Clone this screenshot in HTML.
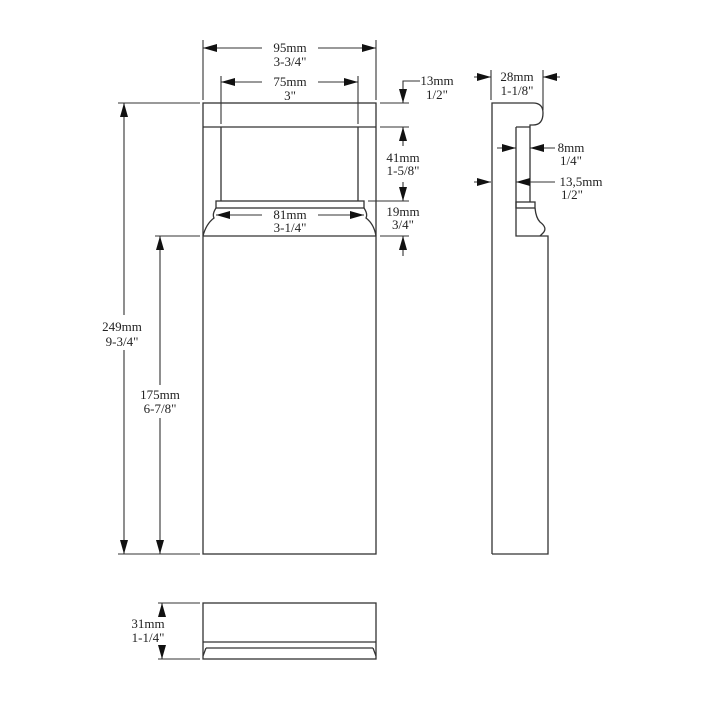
<!DOCTYPE html>
<html><head><style>body{margin:0;background:#fff}svg{display:block}text{font-family:"Liberation Serif",serif;font-size:13px;fill:#222;text-anchor:middle}</style></head><body>
<svg width="720" height="720" viewBox="0 0 720 720">
<defs><marker id="a" viewBox="0 0 14 8" refX="14" refY="4" markerWidth="14" markerHeight="8" orient="auto" markerUnits="userSpaceOnUse"><path d="M0,0L14,4L0,8z" fill="#111"/></marker></defs>
<g fill="none" stroke="#333" stroke-width="1.3">
<rect x="203" y="103" width="173" height="451"/>
<line x1="203" y1="127" x2="376" y2="127"/>
<line x1="221" y1="127" x2="221" y2="201"/><line x1="358" y1="127" x2="358" y2="201"/>
<rect x="216" y="201" width="148" height="7"/>
<path d="M216,208 Q212,214 214,218 Q206,224 203,236 M364,208 Q368,214 366,218 Q374,224 376,236"/>
<line x1="203" y1="236" x2="376" y2="236"/>
<path d="M492,554 L492,103 L533,103 Q543,103 543,113 Q543,125 533,125 L530,125 L530,202"/>
<path d="M516,127 L530,127 M516,127 L516,236 L548,236 L548,554 L492,554"/>
<rect x="516" y="202" width="19" height="6"/>
<path d="M535,208 Q536,218 540,222 Q548,228 543,233 L540,236"/>
<rect x="203" y="603" width="173" height="56"/>
<line x1="203" y1="642" x2="376" y2="642"/>
<line x1="206" y1="648" x2="373" y2="648"/>
<path d="M206,648 L203,656 M373,648 L376,656"/>
</g>
<g fill="none" stroke="#333" stroke-width="1.1">
<line x1="203" y1="40" x2="203" y2="100"/><line x1="376" y1="40" x2="376" y2="100"/>
<line x1="221" y1="76" x2="221" y2="124"/><line x1="358" y1="76" x2="358" y2="124"/>
<line x1="380" y1="103" x2="409" y2="103"/><line x1="380" y1="127" x2="409" y2="127"/>
<line x1="368" y1="201" x2="409" y2="201"/><line x1="380" y1="236" x2="409" y2="236"/>
<line x1="118" y1="103" x2="200" y2="103"/><line x1="118" y1="554" x2="200" y2="554"/>
<line x1="155" y1="236" x2="200" y2="236"/>
<line x1="158" y1="603" x2="200" y2="603"/><line x1="158" y1="659" x2="200" y2="659"/>
<line x1="491" y1="70" x2="491" y2="100"/><line x1="543" y1="70" x2="543" y2="110"/>
<line x1="262" y1="48" x2="203" y2="48" marker-end="url(#a)"/><line x1="318" y1="48" x2="376" y2="48" marker-end="url(#a)"/>
<line x1="262" y1="82" x2="221" y2="82" marker-end="url(#a)"/><line x1="318" y1="82" x2="358" y2="82" marker-end="url(#a)"/>
<line x1="262" y1="215" x2="216" y2="215" marker-end="url(#a)"/><line x1="318" y1="215" x2="364" y2="215" marker-end="url(#a)"/>
<path d="M420,81 L403,81 L403,103" marker-end="url(#a)"/>
<line x1="403" y1="146" x2="403" y2="127" marker-end="url(#a)"/><line x1="403" y1="182" x2="403" y2="201" marker-end="url(#a)"/>
<line x1="403" y1="256" x2="403" y2="236" marker-end="url(#a)"/>
<line x1="124" y1="315" x2="124" y2="103" marker-end="url(#a)"/><line x1="124" y1="350" x2="124" y2="554" marker-end="url(#a)"/>
<line x1="160" y1="385" x2="160" y2="236" marker-end="url(#a)"/><line x1="160" y1="418" x2="160" y2="554" marker-end="url(#a)"/>
<line x1="162" y1="616" x2="162" y2="603" marker-end="url(#a)"/><line x1="162" y1="646" x2="162" y2="659" marker-end="url(#a)"/>
<line x1="474" y1="77" x2="491" y2="77" marker-end="url(#a)"/><line x1="560" y1="77" x2="543" y2="77" marker-end="url(#a)"/>
<line x1="497" y1="148" x2="516" y2="148" marker-end="url(#a)"/><line x1="555" y1="148" x2="530" y2="148" marker-end="url(#a)"/>
<line x1="474" y1="182" x2="491" y2="182" marker-end="url(#a)"/><line x1="555" y1="182" x2="516" y2="182" marker-end="url(#a)"/>
</g>
<text x="290" y="52">95mm</text><text x="290" y="66">3-3/4"</text>
<text x="290" y="86">75mm</text><text x="290" y="100">3"</text>
<text x="290" y="219">81mm</text><text x="290" y="232">3-1/4"</text>
<text x="437" y="85">13mm</text><text x="437" y="99">1/2"</text>
<text x="403" y="162">41mm</text><text x="403" y="175">1-5/8"</text>
<text x="403" y="216">19mm</text><text x="403" y="229">3/4"</text>
<text x="122" y="331">249mm</text><text x="122" y="346">9-3/4"</text>
<text x="160" y="399">175mm</text><text x="160" y="413">6-7/8"</text>
<text x="148" y="628">31mm</text><text x="148" y="642">1-1/4"</text>
<text x="517" y="81">28mm</text><text x="517" y="95">1-1/8"</text>
<text x="571" y="152">8mm</text><text x="571" y="165">1/4"</text>
<text x="581" y="186">13,5mm</text><text x="572" y="199">1/2"</text>
</svg>
</body></html>
